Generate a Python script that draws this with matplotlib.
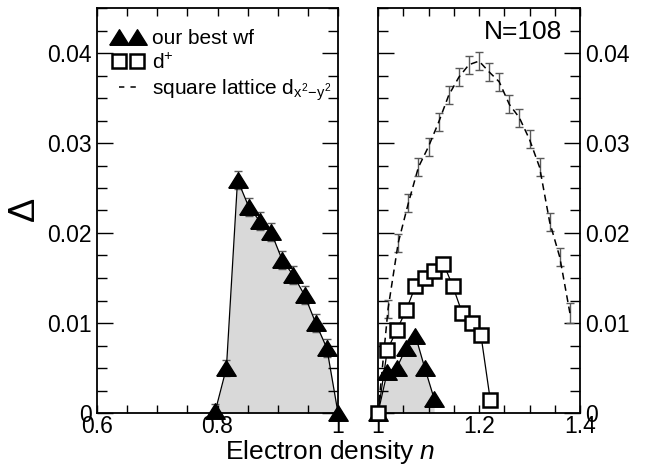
import matplotlib
matplotlib.use('Agg')
import matplotlib.pyplot as plt
from matplotlib.lines import Line2D
from matplotlib.ticker import MultipleLocator, FuncFormatter

plt.rcParams['font.family'] = ['Liberation Sans', 'DejaVu Sans']
plt.rcParams['mathtext.fontset'] = 'custom'
plt.rcParams['mathtext.rm'] = 'Liberation Sans'
plt.rcParams['mathtext.it'] = 'Liberation Sans:italic'

# our best wf, n < 1
n_best_lo = [0.7963, 0.8148, 0.8333, 0.8519, 0.8704, 0.8889, 0.9074, 0.9259, 0.9444, 0.9630, 0.9815, 1.0]
d_best_lo = [0.0002, 0.0050, 0.0259, 0.0229, 0.0213, 0.0201, 0.0170, 0.0153, 0.0131, 0.0100, 0.0072, 0.0]
e_best_lo = [0.0008, 0.0009, 0.0010, 0.0010, 0.0010, 0.0010, 0.0010, 0.0010, 0.0010, 0.0010, 0.0010, 0.0]

# our best wf, n > 1
n_best_hi = [1.0, 1.0185, 1.0370, 1.0556, 1.0741, 1.0926, 1.1111]
d_best_hi = [0.0, 0.0046, 0.0050, 0.0072, 0.0086, 0.0050, 0.0016]

# d+
n_dplus = [1.0, 1.0185, 1.0370, 1.0556, 1.0741, 1.0926, 1.1111, 1.1296, 1.1481, 1.1667, 1.1852, 1.2037, 1.2222]
d_dplus = [0.0, 0.0070, 0.0092, 0.0114, 0.0141, 0.0150, 0.0158, 0.0166, 0.0141, 0.0111, 0.0100, 0.0087, 0.0015]

# square lattice d_{x2-y2}
n_sq = [1.00, 1.02, 1.04, 1.06, 1.08, 1.10, 1.12, 1.14, 1.16, 1.18,
        1.20, 1.22, 1.24, 1.26, 1.28, 1.30, 1.32, 1.34, 1.36, 1.38]
d_sq = [0.0, 0.0116, 0.0189, 0.0233, 0.0273, 0.0296, 0.0323, 0.0353, 0.0373, 0.0387,
        0.0391, 0.0379, 0.0368, 0.0343, 0.0328, 0.0304, 0.0273, 0.0212, 0.0173, 0.0111]
e_sq = [0.0003, 0.0010, 0.0010, 0.0010, 0.0010, 0.0010, 0.0010, 0.0010, 0.0010, 0.0010,
        0.0010, 0.0010, 0.0010, 0.0010, 0.0010, 0.0010, 0.0010, 0.0010, 0.0010, 0.0011]

legend_labels = ['our best wf', r'd$^{+}$', r'square lattice d$_{\mathrm{x^2\!-\!y^2}}$']

tri = [(-1, -0.8), (1, -0.8), (0, 0.8), (-1, -0.8)]
fill_col = '0.85'
err_col = '0.35'
dash = (0, (4.5, 3))

fig = plt.figure(figsize=(6.45, 4.70), dpi=100)
ax1 = fig.add_axes([97 / 645, 57 / 470, 241 / 645, 405 / 470])
ax2 = fig.add_axes([378 / 645, 57 / 470, 202 / 645, 405 / 470])

# left panel
ax1.fill_between(n_best_lo, 0, d_best_lo, color=fill_col, lw=0, zorder=1)
ax1.errorbar(n_best_lo, d_best_lo, yerr=e_best_lo, fmt='none', ecolor=err_col,
             elinewidth=1, capsize=2.6, capthick=1, zorder=2)
ax1.plot(n_best_lo, d_best_lo, color='k', lw=0.9, marker=tri, ms=14,
         mfc='k', mec='k', zorder=4, clip_on=False)

# right panel
ax2.fill_between(n_best_hi, 0, d_best_hi, color=fill_col, lw=0, zorder=1)
ax2.errorbar(n_sq, d_sq, yerr=e_sq, fmt='none', ecolor=err_col,
             elinewidth=1, capsize=2.6, capthick=1, zorder=2)
ax2.plot(n_sq, d_sq, color='k', lw=1.1, ls=dash, zorder=3)
ax2.plot(n_best_hi, d_best_hi, color='k', lw=0.9, marker=tri, ms=14,
         mfc='k', mec='k', zorder=4, clip_on=False)
ax2.plot(n_dplus, d_dplus, color='k', lw=0.9, marker='s', ms=10.5,
         mfc='white', mec='k', mew=1.8, zorder=5, clip_on=False)

ax1.set_xlim(0.6, 1.0)
ax2.set_xlim(1.0, 1.4)
fmt = FuncFormatter(lambda v, p: '%g' % round(v, 4))
for ax in (ax1, ax2):
    ax.set_ylim(0, 0.045)
    ax.xaxis.set_major_locator(MultipleLocator(0.2))
    ax.xaxis.set_minor_locator(MultipleLocator(0.05))
    ax.yaxis.set_major_locator(MultipleLocator(0.01))
    ax.yaxis.set_minor_locator(MultipleLocator(0.0025))
    ax.xaxis.set_major_formatter(fmt)
    ax.yaxis.set_major_formatter(fmt)
    ax.tick_params(which='both', direction='in', top=True, right=True, left=True,
                   labelsize=16.5, width=1, color='k')
    ax.tick_params(axis='x', which='both', length=5.8, pad=1.5)
    ax.tick_params(axis='y', which='major', length=11.5, pad=3.6)
    ax.tick_params(axis='y', which='minor', length=7)
    for s in ax.spines.values():
        s.set_linewidth(1.3)

ax2.tick_params(axis='y', which='both', labelleft=False, labelright=True)

ax2.text(0.91, 0.94, 'N=108', transform=ax2.transAxes, ha='right', va='center', fontsize=19)

handles = [
    Line2D([], [], ls='none', marker=tri, ms=14, color='k'),
    Line2D([], [], ls='none', marker='s', ms=10.5, mfc='white', mec='k', mew=1.8),
    Line2D([], [], ls=(0, (3.5, 4)), color='k', lw=1.1),
]
ax1.legend(handles, legend_labels, loc='upper left', bbox_to_anchor=(0.064, 0.948),
           frameon=False, numpoints=2, fontsize=15, handlelength=1.47,
           handletextpad=0.43, labelspacing=0.22, borderpad=0, borderaxespad=0)

fig.text(330 / 645, 18 / 470, r'Electron density $n$', ha='center', va='center', fontsize=19)
fig.text(25.5 / 645, 260 / 470, r'$\Delta$', ha='center', va='center', fontsize=26, rotation=90)

fig.savefig('out.png', dpi=100)
